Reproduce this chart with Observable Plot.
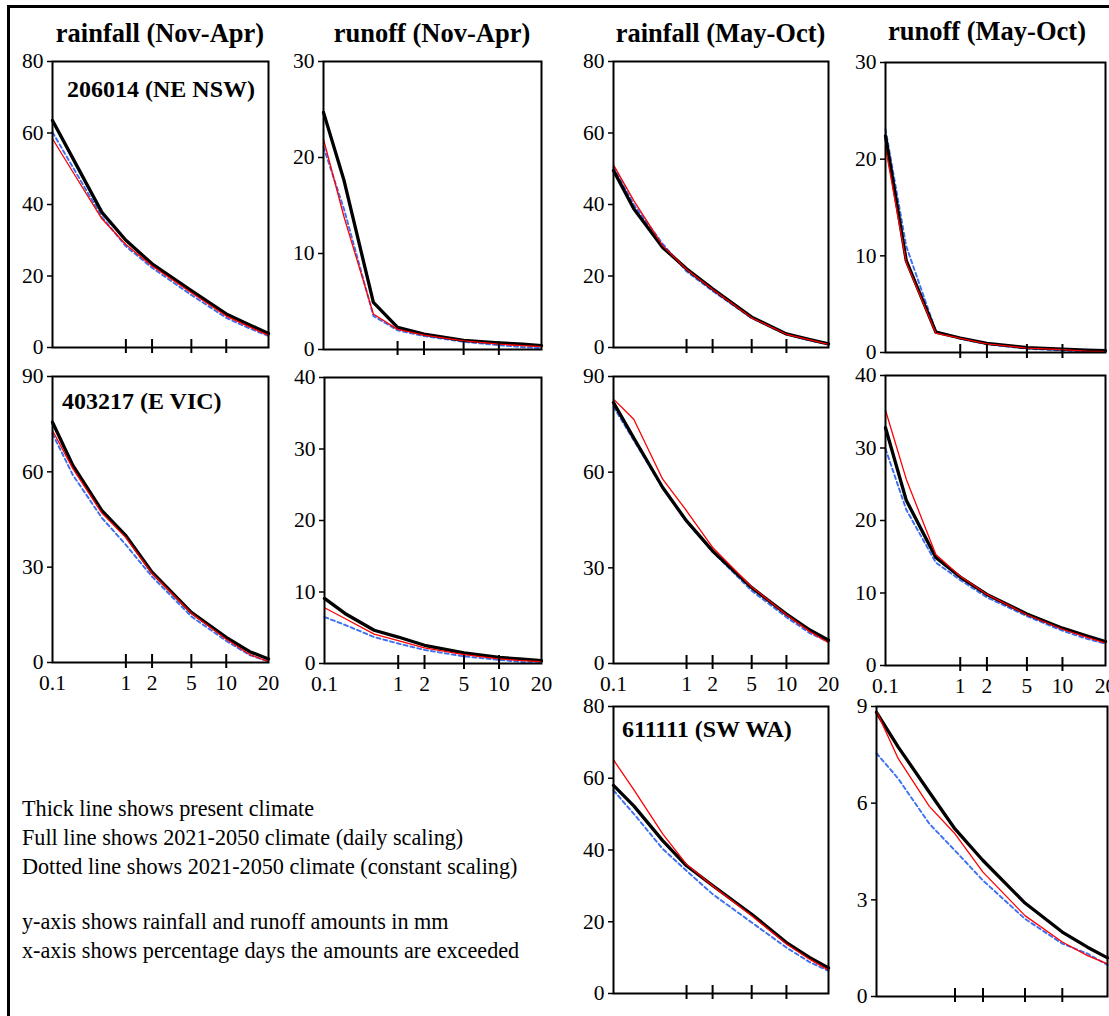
<!DOCTYPE html>
<html><head><meta charset="utf-8">
<script src="https://cdn.jsdelivr.net/npm/d3@7"></script>
<script src="https://cdn.jsdelivr.net/npm/@observablehq/plot@0.6"></script>
<style>
html,body{margin:0;padding:0;background:#fff;overflow:hidden;}
#fig{position:relative;width:1109px;height:1016px;overflow:hidden;font-family:"Liberation Serif","Times New Roman",serif;color:#000;background:#fff;}
.border{position:absolute;left:7px;top:5px;width:1300px;height:1300px;border:3px solid #000;box-sizing:border-box;}
.t{position:absolute;white-space:nowrap;line-height:1;}
.panel{position:absolute;}
</style></head><body><div id="fig"><div class="border"></div></div>
<script>
// ---- data ----
const pct = [0.1, 0.2, 0.5, 1, 2, 5, 10, 15, 20];          // % days exceeded
const xTickValues = [0.1, 1, 2, 5, 10, 20];
const xInnerTicks = [1, 2, 5, 10];

const seasonTitles = ["rainfall (Nov-Apr)", "runoff (Nov-Apr)", "rainfall (May-Oct)", "runoff (May-Oct)"];
const stationLabels = ["206014 (NE NSW)", "403217 (E VIC)", "611111 (SW WA)"];
const legendLines = [
  "Thick line shows present climate",
  "Full line shows 2021-2050 climate (daily scaling)",
  "Dotted line shows 2021-2050 climate (constant scaling)",
  "",
  "y-axis shows rainfall and runoff amounts in mm",
  "x-axis shows percentage days the amounts are exceeded"
];

const ticks80 = [0, 20, 40, 60, 80];
const ticks30 = [0, 10, 20, 30];
const ticks90 = [0, 30, 60, 90];
const ticks40 = [0, 10, 20, 30, 40];
const ticks9 = [0, 3, 6, 9];

// 206014 (NE NSW)
const nswRainNovApr_present  = [63.5, 52.9, 37.8, 30.0, 23.4, 15.9, 9.4, 6.3, 3.9];
const nswRainNovApr_daily    = [58.4, 49.1, 36.0, 28.8, 22.8, 15.3, 8.8, 5.7, 3.4];
const nswRainNovApr_constant = [60.2, 50.4, 36.5, 28.3, 22.3, 14.7, 8.3, 5.3, 3.2];
const nswRunNovApr_present   = [24.7, 17.6, 4.9, 2.3, 1.6, 0.95, 0.7, 0.55, 0.4];
const nswRunNovApr_daily     = [21.9, 13.8, 3.7, 2.1, 1.5, 0.9, 0.55, 0.4, 0.3];
const nswRunNovApr_constant  = [21.1, 14.6, 3.5, 2.0, 1.4, 0.8, 0.45, 0.25, 0.15];
const nswRainMayOct_present  = [49.5, 38.8, 28.0, 22.0, 16.4, 8.5, 3.8, 2.2, 1.0];
const nswRainMayOct_daily    = [51.1, 41.1, 28.5, 21.8, 16.2, 8.3, 3.7, 2.1, 0.9];
const nswRainMayOct_constant = [50.5, 40.0, 29.0, 21.3, 15.8, 8.2, 3.6, 2.0, 0.8];
const nswRunMayOct_present   = [22.4, 9.5, 2.1, 1.5, 0.95, 0.5, 0.35, 0.25, 0.2];
const nswRunMayOct_daily     = [21.2, 9.3, 2.0, 1.45, 0.9, 0.45, 0.3, 0.15, 0.1];
const nswRunMayOct_constant  = [23.1, 11.0, 2.2, 1.4, 0.85, 0.4, 0.2, 0.1, 0.05];

// 403217 (E VIC)
const vicRainNovApr_present  = [75.6, 62.0, 47.8, 39.9, 28.4, 15.8, 7.9, 3.4, 1.1];
const vicRainNovApr_daily    = [73.0, 61.0, 47.0, 39.3, 28.0, 15.5, 7.3, 2.5, 0.3];
const vicRainNovApr_constant = [72.0, 59.0, 45.5, 37.0, 27.0, 14.5, 6.8, 2.3, 0.3];
const vicRunNovApr_present   = [9.1, 7.0, 4.65, 3.7, 2.55, 1.5, 0.85, 0.6, 0.4];
const vicRunNovApr_daily     = [7.8, 6.3, 4.1, 3.2, 2.2, 1.25, 0.65, 0.4, 0.25];
const vicRunNovApr_constant  = [6.5, 5.4, 3.7, 2.8, 1.9, 1.0, 0.5, 0.2, 0.1];
const vicRainMayOct_present  = [81.8, 70.7, 55.2, 44.7, 35.3, 23.8, 15.5, 10.5, 7.3];
const vicRainMayOct_daily    = [82.9, 76.6, 57.8, 47.9, 36.4, 24.0, 15.3, 10.0, 6.5];
const vicRainMayOct_constant = [80.5, 70.0, 55.0, 44.5, 35.0, 22.8, 14.5, 9.5, 6.8];
const vicRunMayOct_present   = [32.8, 22.8, 14.9, 12.2, 9.8, 7.1, 5.15, 4.1, 3.3];
const vicRunMayOct_daily     = [35.2, 25.7, 15.3, 12.3, 9.8, 7.0, 5.0, 3.9, 3.1];
const vicRunMayOct_constant  = [29.9, 21.5, 14.2, 11.8, 9.4, 6.8, 4.8, 3.7, 3.0];

// 611111 (SW WA)
const waRainMayOct_present   = [58.0, 52.3, 42.6, 35.6, 30.1, 22.1, 14.2, 10.0, 7.1];
const waRainMayOct_daily     = [65.1, 56.8, 44.5, 36.0, 30.0, 21.7, 13.8, 9.5, 6.5];
const waRainMayOct_constant  = [56.6, 50.1, 40.3, 34.2, 27.7, 19.8, 12.8, 8.7, 6.3];
const waRunMayOct_present    = [8.82, 7.74, 6.34, 5.2, 4.22, 2.9, 2.0, 1.53, 1.2];
const waRunMayOct_daily      = [8.85, 7.38, 5.9, 5.05, 3.86, 2.51, 1.69, 1.27, 1.01];
const waRunMayOct_constant   = [7.55, 6.76, 5.36, 4.53, 3.6, 2.41, 1.64, 1.33, 0.98];

// ---- panel definitions ----
const panels = [
  {present: nswRainNovApr_present, daily: nswRainNovApr_daily, constant: nswRainNovApr_constant, yMax: 80, yTicks: ticks80, xLabels: false},
  {present: nswRunNovApr_present,  daily: nswRunNovApr_daily,  constant: nswRunNovApr_constant,  yMax: 30, yTicks: ticks30, xLabels: false},
  {present: nswRainMayOct_present, daily: nswRainMayOct_daily, constant: nswRainMayOct_constant, yMax: 80, yTicks: ticks80, xLabels: false},
  {present: nswRunMayOct_present,  daily: nswRunMayOct_daily,  constant: nswRunMayOct_constant,  yMax: 30, yTicks: ticks30, xLabels: false},
  {present: vicRainNovApr_present, daily: vicRainNovApr_daily, constant: vicRainNovApr_constant, yMax: 90, yTicks: ticks90, xLabels: true},
  {present: vicRunNovApr_present,  daily: vicRunNovApr_daily,  constant: vicRunNovApr_constant,  yMax: 40, yTicks: ticks40, xLabels: true},
  {present: vicRainMayOct_present, daily: vicRainMayOct_daily, constant: vicRainMayOct_constant, yMax: 90, yTicks: ticks90, xLabels: true},
  {present: vicRunMayOct_present,  daily: vicRunMayOct_daily,  constant: vicRunMayOct_constant,  yMax: 40, yTicks: ticks40, xLabels: true},
  {present: waRainMayOct_present,  daily: waRainMayOct_daily,  constant: waRainMayOct_constant,  yMax: 80, yTicks: ticks80, xLabels: false},
  {present: waRunMayOct_present,   daily: waRunMayOct_daily,   constant: waRunMayOct_constant,   yMax: 9,  yTicks: ticks9,  xLabels: false}
];

// layout: plot frame boxes [left, top, right, bottom] in page pixels
const frames = [
  [52, 61, 268, 347], [323, 61, 541, 349], [613, 61, 828, 347], [885, 62, 1105, 352],
  [52, 376, 268, 662], [324, 377, 541, 663], [613, 376, 828, 663], [885, 375, 1105, 665],
  [613, 706, 828, 993], [876, 706, 1107, 996]
];

// normal probability (probit) transform for the x axis
function probit(p) {
  const a = [-3.969683028665376e+01, 2.209460984245205e+02, -2.759285104469687e+02, 1.383577518672690e+02, -3.066479806614716e+01, 2.506628277459239e+00];
  const b = [-5.447609879822406e+01, 1.615858368580409e+02, -1.556989798598866e+02, 6.680131188771972e+01, -1.328068155288572e+01];
  const c = [-7.784894002430293e-03, -3.223964580411365e-01, -2.400758277161838e+00, -2.549671348283254e+00, 4.374664141464968e+00, 2.938163982698783e+00];
  const d = [7.784695709041462e-03, 3.224671290700398e-01, 2.445134137142996e+00, 3.754408661907416e+00];
  const pl = 0.02425, ph = 1 - pl;
  let q, r;
  if (p < pl) { q = Math.sqrt(-2 * Math.log(p)); return (((((c[0]*q+c[1])*q+c[2])*q+c[3])*q+c[4])*q+c[5]) / ((((d[0]*q+d[1])*q+d[2])*q+d[3])*q+1); }
  if (p <= ph) { q = p - 0.5; r = q*q; return (((((a[0]*r+a[1])*r+a[2])*r+a[3])*r+a[4])*r+a[5])*q / (((((b[0]*r+b[1])*r+b[2])*r+b[3])*r+b[4])*r+1); }
  q = Math.sqrt(-2 * Math.log(1 - p)); return -(((((c[0]*q+c[1])*q+c[2])*q+c[3])*q+c[4])*q+c[5]) / ((((d[0]*q+d[1])*q+d[2])*q+d[3])*q+1);
}
const zx = p => probit(p / 100);
const zTicks = xTickValues.map(zx);
const zLabel = new Map(xTickValues.map(v => [zx(v), String(v)]));

const fig = document.getElementById("fig");
const FONT = '"Liberation Serif","Times New Roman",serif';

panels.forEach((pn, k) => {
  const [x0, y0, x1, y1] = frames[k];
  const mL = 50, mR = 10, mT = 14, mB = 36;
  const rows = pct.map((p, i) => ({px: zx(p), present: pn.present[i], daily: pn.daily[i], constant: pn.constant[i]}));
  const marks = [
    Plot.lineY(rows, {x: "px", y: "constant", stroke: "#3d6ff2", strokeWidth: 1.9, strokeDasharray: "4,3"}),
    Plot.lineY(rows, {x: "px", y: "present", stroke: "#000", strokeWidth: 3.3}),
    Plot.lineY(rows, {x: "px", y: "daily", stroke: "#ff0000", strokeWidth: 1.3}),
    Plot.ruleX(xInnerTicks, {x: zx, y1: 0, y2: 0, insetTop: -8, insetBottom: -6, stroke: "#000", strokeWidth: 2}),
    Plot.axisY({ticks: pn.yTicks, tickSize: 5, tickPadding: 4, strokeWidth: 1.5, fontSize: 21.5, fontFamily: FONT, label: null}),
    Plot.frame({stroke: "#000", strokeWidth: 2})
  ];
  if (pn.xLabels) {
    marks.push(Plot.axisX({ticks: zTicks, tickFormat: d => zLabel.get(d), tickSize: 0, tickPadding: 12, fontSize: 21.5, fontFamily: FONT, label: null}));
  }
  const chart = Plot.plot({
    width: x1 - x0 + mL + mR,
    height: y1 - y0 + mT + mB,
    marginLeft: mL, marginRight: mR, marginTop: mT, marginBottom: mB,
    style: {background: "transparent", fontFamily: FONT, fontSize: "21.5px", color: "#000", overflow: "visible"},
    x: pn.xLabels ? {type: "linear", domain: [zx(0.1), zx(20)]} : {type: "linear", domain: [zx(0.1), zx(20)], axis: null},
    y: {domain: [0, pn.yMax]},
    marks
  });
  chart.classList.add("panel");
  chart.style.left = (x0 - mL) + "px";
  chart.style.top = (y0 - mT) + "px";
  chart.style.maxWidth = "none";
  fig.appendChild(chart);
});

function addText(str, x, baseline, size, bold, center) {
  const el = document.createElement("div");
  el.className = "t";
  el.textContent = str;
  el.style.fontSize = size + "px";
  el.style.fontWeight = bold ? "bold" : "normal";
  el.style.top = (baseline - 0.8375 * size) + "px";
  el.style.left = x + "px";
  if (center) el.style.transform = "translateX(-50%)";
  fig.appendChild(el);
}

// column titles centered over top-row frames
const titleBaselines = [41.7, 41.7, 41.7, 40];
seasonTitles.forEach((s, i) => {
  const [x0, , x1] = frames[i];
  addText(s, (x0 + x1) / 2 - (i === 3 ? 8 : 0), titleBaselines[i], 26.5, true, true);
});
// station labels
addText(stationLabels[0], 67, 96.7, 24, true, false);
addText(stationLabels[1], 62, 409, 24, true, false);
addText(stationLabels[2], 622, 737, 24, true, false);
// legend text
const legendBaselines = [816.5, 845.5, 874.5, 903.5, 930, 959];
legendLines.forEach((s, i) => { if (s) addText(s, 22, legendBaselines[i], 22.2, false, false); });
</script></body></html>
